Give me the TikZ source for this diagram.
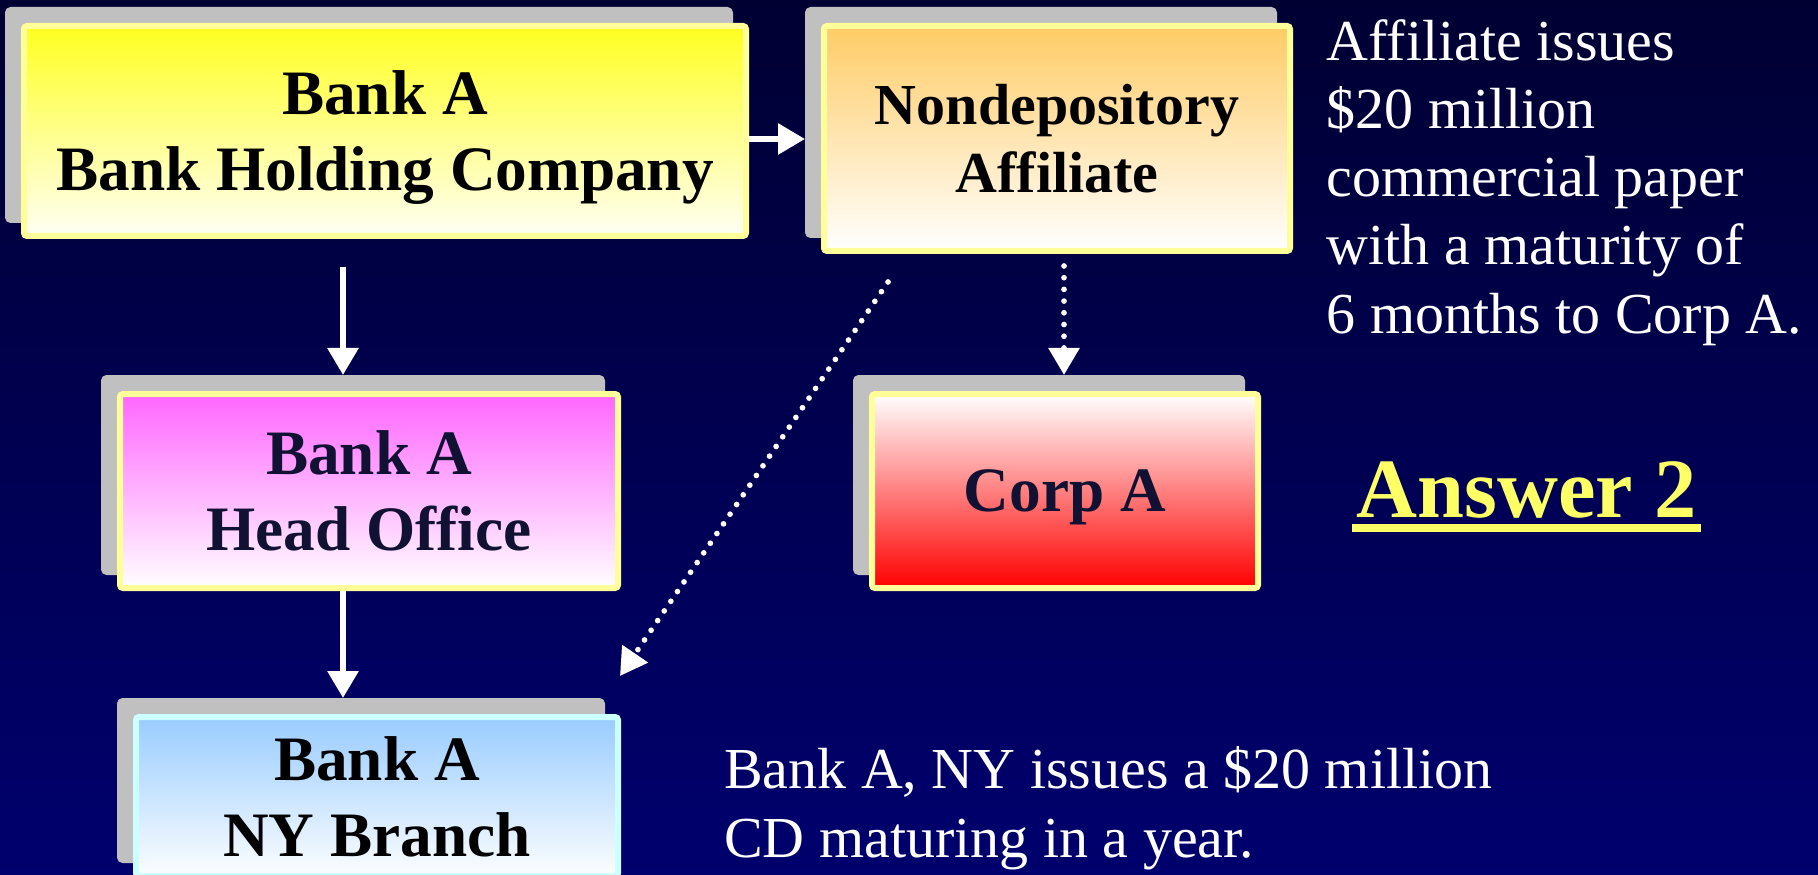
\documentclass[tikz,border=0pt]{standalone}
\usepackage{fontspec}
\setmainfont{Liberation Serif}
\usetikzlibrary{arrows.meta,shadows}

\definecolor{bgtop}{RGB}{0,0,51}
\definecolor{bgbottom}{RGB}{0,0,110}
\definecolor{shadowgrey}{RGB}{192,192,192}
\definecolor{edgeyellow}{RGB}{255,255,153}
\definecolor{edgecyan}{RGB}{204,255,255}
\definecolor{bhcyellow}{RGB}{255,255,32}
\definecolor{bhcwhite}{RGB}{255,255,245}
\definecolor{afforange}{RGB}{255,204,102}
\definecolor{homagenta}{RGB}{255,102,255}
\definecolor{corpred}{RGB}{255,0,0}
\definecolor{nyblue}{RGB}{153,204,255}
\definecolor{darktext}{RGB}{17,17,51}
\definecolor{answeryellow}{RGB}{255,255,102}

\begin{document}
\begin{tikzpicture}[
  box/.style={draw=edgeyellow, line width=0.06cm, rounded corners=0.03cm, inner sep=0pt, align=center,
    font=\bfseries\fontsize{18}{21.6}\selectfont,
    drop shadow={shadow xshift=-0.16cm, shadow yshift=0.16cm, opacity=1, fill=shadowgrey,
      draw=shadowgrey, line width=0.06cm}},
  link/.style={white, line width=0.06cm, -{Triangle[length=0.27cm, width=0.3cm]}},
  dotlink/.style={link, line width=0.057cm, line cap=round, dash pattern=on 0pt off 0.117cm},
  note/.style={text=white, align=left, inner sep=0pt, font=\fontsize{16.5}{19.4}\selectfont}
]
  % background
  \useasboundingbox (0,0) rectangle (18.18,-8.75);
  \shade[top color=bgtop, bottom color=bgbottom] (0,0) rectangle (18.18,-8.75);

  % boxes
  \node[box, top color=bhcyellow, bottom color=bhcwhite, minimum width=7.22cm, minimum height=2.10cm,
    text depth=0pt]
    (bhc) at (3.85,-1.31) {Bank A\\Bank Holding Company};
  \node[box, top color=afforange, bottom color=white, minimum width=4.66cm, minimum height=2.25cm,
    font=\bfseries\fontsize{16.5}{19.4}\selectfont]
    (aff) at (10.57,-1.385) {Nondepository\\Affiliate};
  \node[box, top color=homagenta, bottom color=white, text=darktext, minimum width=4.98cm, minimum height=1.94cm]
    (ho) at (3.69,-4.91) {Bank A\\Head Office};
  \node[box, top color=white, bottom color=corpred, text=darktext, minimum width=3.86cm, minimum height=1.94cm,
    text depth=0pt]
    (corp) at (10.65,-4.91) {Corp A};
  \node[box, draw=edgecyan, top color=nyblue, bottom color=white!97!nyblue, minimum width=4.82cm, minimum height=1.59cm]
    (nyb) at (3.77,-7.965) {Bank A\\NY Branch};

  % texts
  \node[note, anchor=base west] (paper) at (13.26,-3.33)
    {Affiliate issues\\\$20 million\\commercial paper\\with a maturity of\\6 months to Corp A.};
  \node[note, anchor=base west] (cd) at (7.235,-8.57)
    {Bank A, NY issues a \$20 million\\CD maturing in a year.};
  \node[text=answeryellow, font=\bfseries\fontsize{24}{28}\selectfont, inner sep=0pt, anchor=base west]
    (answer) at (13.56,-5.17) {Answer 2};
  \draw[answeryellow, line width=0.08cm] ([shift={(-0.04,-0.11)}]answer.base west) -- ([shift={(0.04,-0.11)}]answer.base east);

  % connector ends
  \coordinate (bhcout) at ([xshift=-0.42cm, yshift=-0.28cm]bhc.south);
  \coordinate (bhcright) at ([yshift=-0.08cm]bhc.east);
  \coordinate (affleft) at ([xshift=-0.16cm]aff.west);
  \coordinate (affout) at ([shift={(0.07,-0.12)}]aff.south);
  \coordinate (affdiag) at ([shift={(0.67,-0.28)}]aff.south west);
  \coordinate (hotop) at ([yshift=0.16cm]ho.north);
  \coordinate (corptop) at ([yshift=0.16cm]corp.north);
  \coordinate (nybtop) at ([yshift=0.16cm]nyb.north);
  \coordinate (nybcorner) at ([shift={(-0.01,0.38)}]nyb.north east);

  % connectors
  \draw[link] (bhcout) -- (bhcout |- hotop);
  \draw[link] (bhcright) -- (affleft |- bhcright);
  \draw[link] (bhcout |- ho.south) -- (bhcout |- nybtop);
  \draw[dotlink] (affout) -- (affout |- corptop);
  \draw[dotlink] (affdiag) -- (nybcorner);
\end{tikzpicture}
\end{document}
